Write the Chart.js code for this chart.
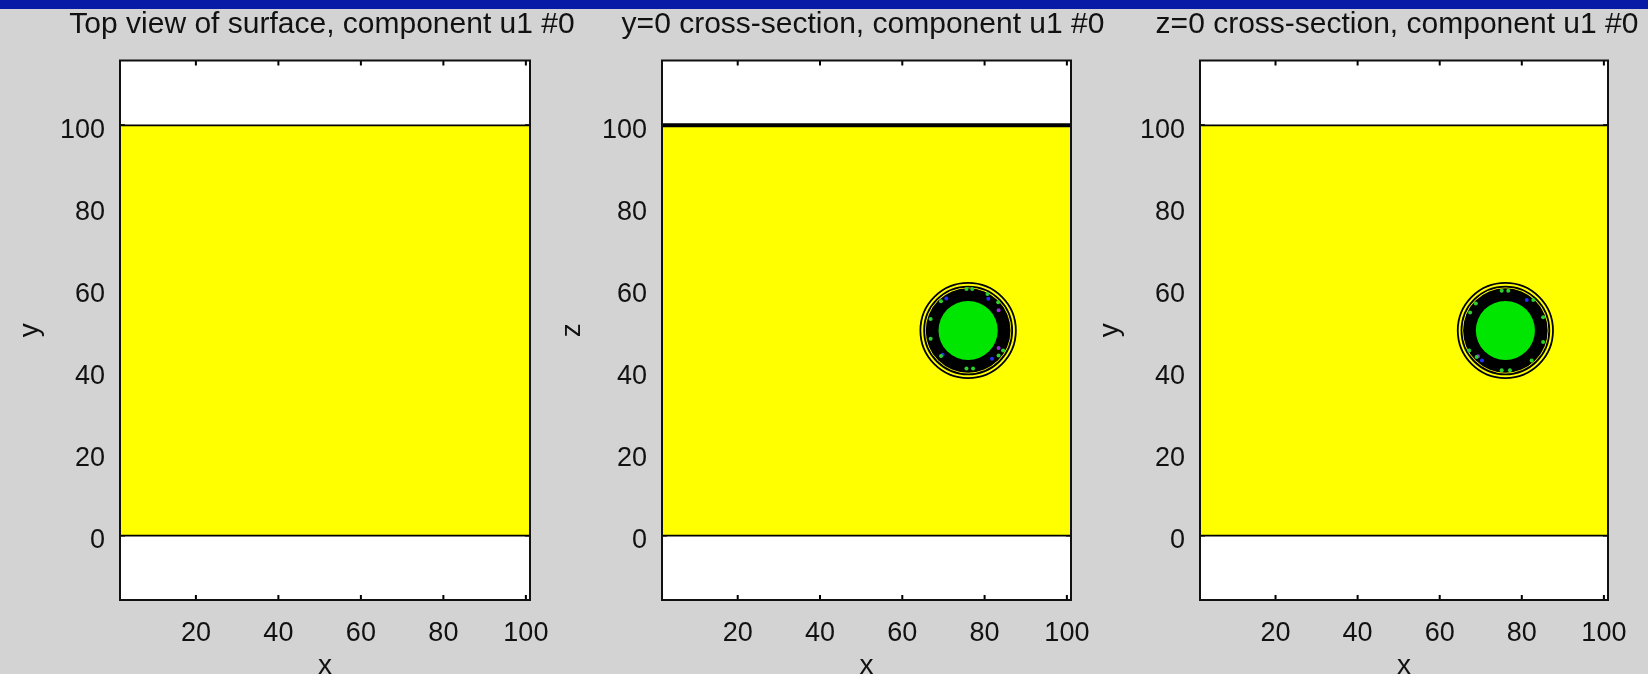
<!DOCTYPE html>
<html>
<head>
<meta charset="utf-8">
<script src="https://cdn.jsdelivr.net/npm/chart.js@4.4.1/dist/chart.umd.min.js"></script>
<style>
  html, body { margin: 0; padding: 0; width: 1648px; height: 674px; overflow: hidden; background: #d3d3d3; }
  #topbar { position: absolute; left: 0; top: 0; width: 1648px; height: 9px; background: #071ba6; z-index: 5; }
  canvas { position: absolute; top: 0; }
</style>
</head>
<body>
<div id="topbar"></div>
<canvas id="c0"></canvas>
<canvas id="c1"></canvas>
<canvas id="c2"></canvas>
<script>
var panelTitles = ['Top view of surface, component u1 #0', 'y=0 cross-section, component u1 #0', 'z=0 cross-section, component u1 #0'];
var panelYLabels = ['y', 'z', 'y'];
var xTicks = [20, 40, 60, 80, 100];
var yTicks = [0, 20, 40, 60, 80, 100];
var xRange = [1.6, 101];
var yRange = [-15.7, 115.8];

// u1 level region (yellow) and its contour edges
var surfaceX = [1, 101];
var surfaceTop = [100, 100];
var surfaceBottom = [0, 0];

// hole seen in the two cross-sections
var hasHole = [false, true, true];
var holeCenter = [76, 50];
var holeCoreRadius = 7.2;
var holeRingRadius = 10.3;
var contourRadii = [10.7, 11.6];

// stray coloured contour pixels inside the ring
var greenDotsX = [[], [75.6, 77.0, 69.4, 80.7, 83.3, 66.9, 66.9, 69.4, 83.4, 84.5, 75.6, 77.2], [75.1, 76.7, 68.8, 67.4, 82.8, 85.2, 85.2, 67.2, 69.0, 82.4, 75.1, 77.1]];
var greenDotsY = [[], [60.1, 60.1, 57.1, 58.9, 56.9, 52.8, 48.0, 43.8, 43.9, 45.1, 40.7, 40.7], [59.7, 59.7, 56.6, 54.4, 57.4, 53.2, 47.2, 45.1, 43.5, 42.7, 40.3, 40.3]];
var blueDotsX = [[], [70.7, 80.9, 69.8, 81.8], [81.2, 70.3]];
var blueDotsY = [[], [57.8, 57.7, 44.1, 43.1], [57.4, 42.7]];
var purpleDotsX = [[], [83.4, 83.4], [69.3]];
var purpleDotsY = [[], [54.9, 45.7], [43.7]];

var topEdgeWidth = [1.7, 4, 1.7];
var panelLayout = [
  { left: -10, boxLeft: 120, boxRight: 530, titleCenter: 322 },
  { left: 532, boxLeft: 662, boxRight: 1071, titleCenter: 863 },
  { left: 1070, boxLeft: 1200, boxRight: 1608, titleCenter: 1397 }
];
var fontFamily = "'Liberation Sans', Arial, sans-serif";
var canvasHeight = 690;

function pts(xs, ys) {
  return xs.map(function (x, i) { return { x: x, y: ys[i] }; });
}

function ellipse(ctx, sx, sy, r) {
  var cx = sx.getPixelForValue(holeCenter[0]);
  var cy = sy.getPixelForValue(holeCenter[1]);
  var rx = Math.abs(sx.getPixelForValue(holeCenter[0] + r) - cx);
  var ry = Math.abs(sy.getPixelForValue(holeCenter[1] + r) - cy);
  ctx.beginPath();
  ctx.ellipse(cx, cy, rx, ry, 0, 0, Math.PI * 2);
}

var framePlugin = {
  id: 'frame',
  beforeDatasetsDraw: function (chart) {
    var a = chart.chartArea, ctx = chart.ctx, sx = chart.scales.x, sy = chart.scales.y;
    ctx.save();
    ctx.fillStyle = '#ffffff';
    ctx.fillRect(a.left, a.top, a.right - a.left, a.bottom - a.top);
    ctx.strokeStyle = '#000';
    ctx.lineWidth = 2;
    ctx.beginPath();
    xTicks.forEach(function (v) {
      var px = sx.getPixelForValue(v);
      ctx.moveTo(px, a.bottom); ctx.lineTo(px, a.bottom - 5);
      ctx.moveTo(px, a.top); ctx.lineTo(px, a.top + 5);
    });
    yTicks.forEach(function (v) {
      var py = sy.getPixelForValue(v);
      ctx.moveTo(a.left, py); ctx.lineTo(a.left + 5, py);
      ctx.moveTo(a.right, py); ctx.lineTo(a.right - 5, py);
    });
    ctx.stroke();
    ctx.restore();
  },
  afterDatasetDraw: function (chart, args, opts) {
    if (!opts.hole || chart.data.datasets[args.index].label !== 'level') return;
    var ctx = chart.ctx, sx = chart.scales.x, sy = chart.scales.y;
    ctx.save();
    ctx.fillStyle = '#000';
    ellipse(ctx, sx, sy, holeRingRadius);
    ctx.fill();
    ctx.fillStyle = '#00e600';
    ellipse(ctx, sx, sy, holeCoreRadius);
    ctx.fill();
    ctx.strokeStyle = '#000';
    ctx.lineWidth = 1.8;
    contourRadii.forEach(function (r) {
      ellipse(ctx, sx, sy, r);
      ctx.stroke();
    });
    ctx.restore();
  },
  afterDraw: function (chart) {
    var a = chart.chartArea, ctx = chart.ctx;
    ctx.save();
    ctx.strokeStyle = '#111';
    ctx.lineWidth = 2;
    ctx.strokeRect(a.left, a.top, a.right - a.left, a.bottom - a.top);
    ctx.restore();
  }
};

function makePanel(i) {
  var lay = panelLayout[i];
  var width = 2 * (lay.titleCenter - lay.left);
  var rightSpace = width - (lay.boxRight - lay.left);
  var canvas = document.getElementById('c' + i);
  canvas.width = width;
  canvas.height = canvasHeight;
  canvas.style.left = lay.left + 'px';
  var dotStyle = { showLine: false, pointRadius: 2, pointBorderWidth: 0, order: 1 };

  new Chart(canvas, {
    type: 'line',
    data: {
      datasets: [
        { label: 'level', data: pts(surfaceX, surfaceTop), fill: { value: 0 }, backgroundColor: '#ffff00',
          borderColor: '#000', borderWidth: topEdgeWidth[i], pointRadius: 0, order: 3 },
        { label: 'edge', data: pts(surfaceX, surfaceBottom), fill: false, borderColor: '#000',
          borderWidth: 1.7, pointRadius: 0, order: 2 },
        Object.assign({ label: 'green', data: pts(greenDotsX[i], greenDotsY[i]), pointBackgroundColor: '#2ed02e' }, dotStyle),
        Object.assign({ label: 'blue', data: pts(blueDotsX[i], blueDotsY[i]), pointBackgroundColor: '#2233ee' }, dotStyle),
        Object.assign({ label: 'purple', data: pts(purpleDotsX[i], purpleDotsY[i]), pointBackgroundColor: '#9a2ccc' }, dotStyle)
      ]
    },
    options: {
      responsive: false,
      animation: false,
      events: [],
      layout: { padding: 0 },
      plugins: {
        legend: { display: false },
        tooltip: { enabled: false },
        title: {
          display: true, text: panelTitles[i], color: '#111',
          font: { family: fontFamily, size: 30, weight: 'normal', lineHeight: 1.2 },
          padding: { top: 6.3, bottom: 18.2 }
        },
        frame: { hole: hasHole[i] }
      },
      scales: {
        x: {
          type: 'linear', min: xRange[0], max: xRange[1],
          grid: { display: false }, border: { display: false },
          afterBuildTicks: function (s) { s.ticks = xTicks.map(function (v) { return { value: v }; }); },
          afterFit: function (s) { s.height = canvasHeight - 600; },
          ticks: { color: '#111', padding: 9, maxRotation: 0, autoSkip: false,
            font: { family: fontFamily, size: 27, lineHeight: 1.2 },
            callback: function (v) { return String(v); } },
          title: { display: true, text: 'x', color: '#111', padding: { top: 0, bottom: 6.5 },
            font: { family: fontFamily, size: 28, lineHeight: 1.2 } }
        },
        y: {
          type: 'linear', min: yRange[0], max: yRange[1],
          grid: { display: false }, border: { display: false },
          afterBuildTicks: function (s) { s.ticks = yTicks.map(function (v) { return { value: v }; }); },
          afterFit: function (s) { s.width = lay.boxLeft - lay.left; },
          ticks: { color: '#111', padding: 7, labelOffset: 5, autoSkip: false,
            font: { family: fontFamily, size: 27, lineHeight: 1.2 },
            callback: function (v) { return String(v); } },
          title: { display: true, text: panelYLabels[i], color: '#111', padding: { top: 23, bottom: 0 },
            font: { family: fontFamily, size: 28, lineHeight: 1.2 } }
        },
        // empty right-hand axis that only reserves the space beside the plot box
        yr: {
          type: 'linear', position: 'right', display: true,
          grid: { display: false }, border: { display: false },
          ticks: { display: false },
          afterFit: function (s) { s.width = rightSpace; }
        }
      }
    },
    plugins: [framePlugin]
  });
}

makePanel(0);
makePanel(1);
makePanel(2);
</script>
</body>
</html>
